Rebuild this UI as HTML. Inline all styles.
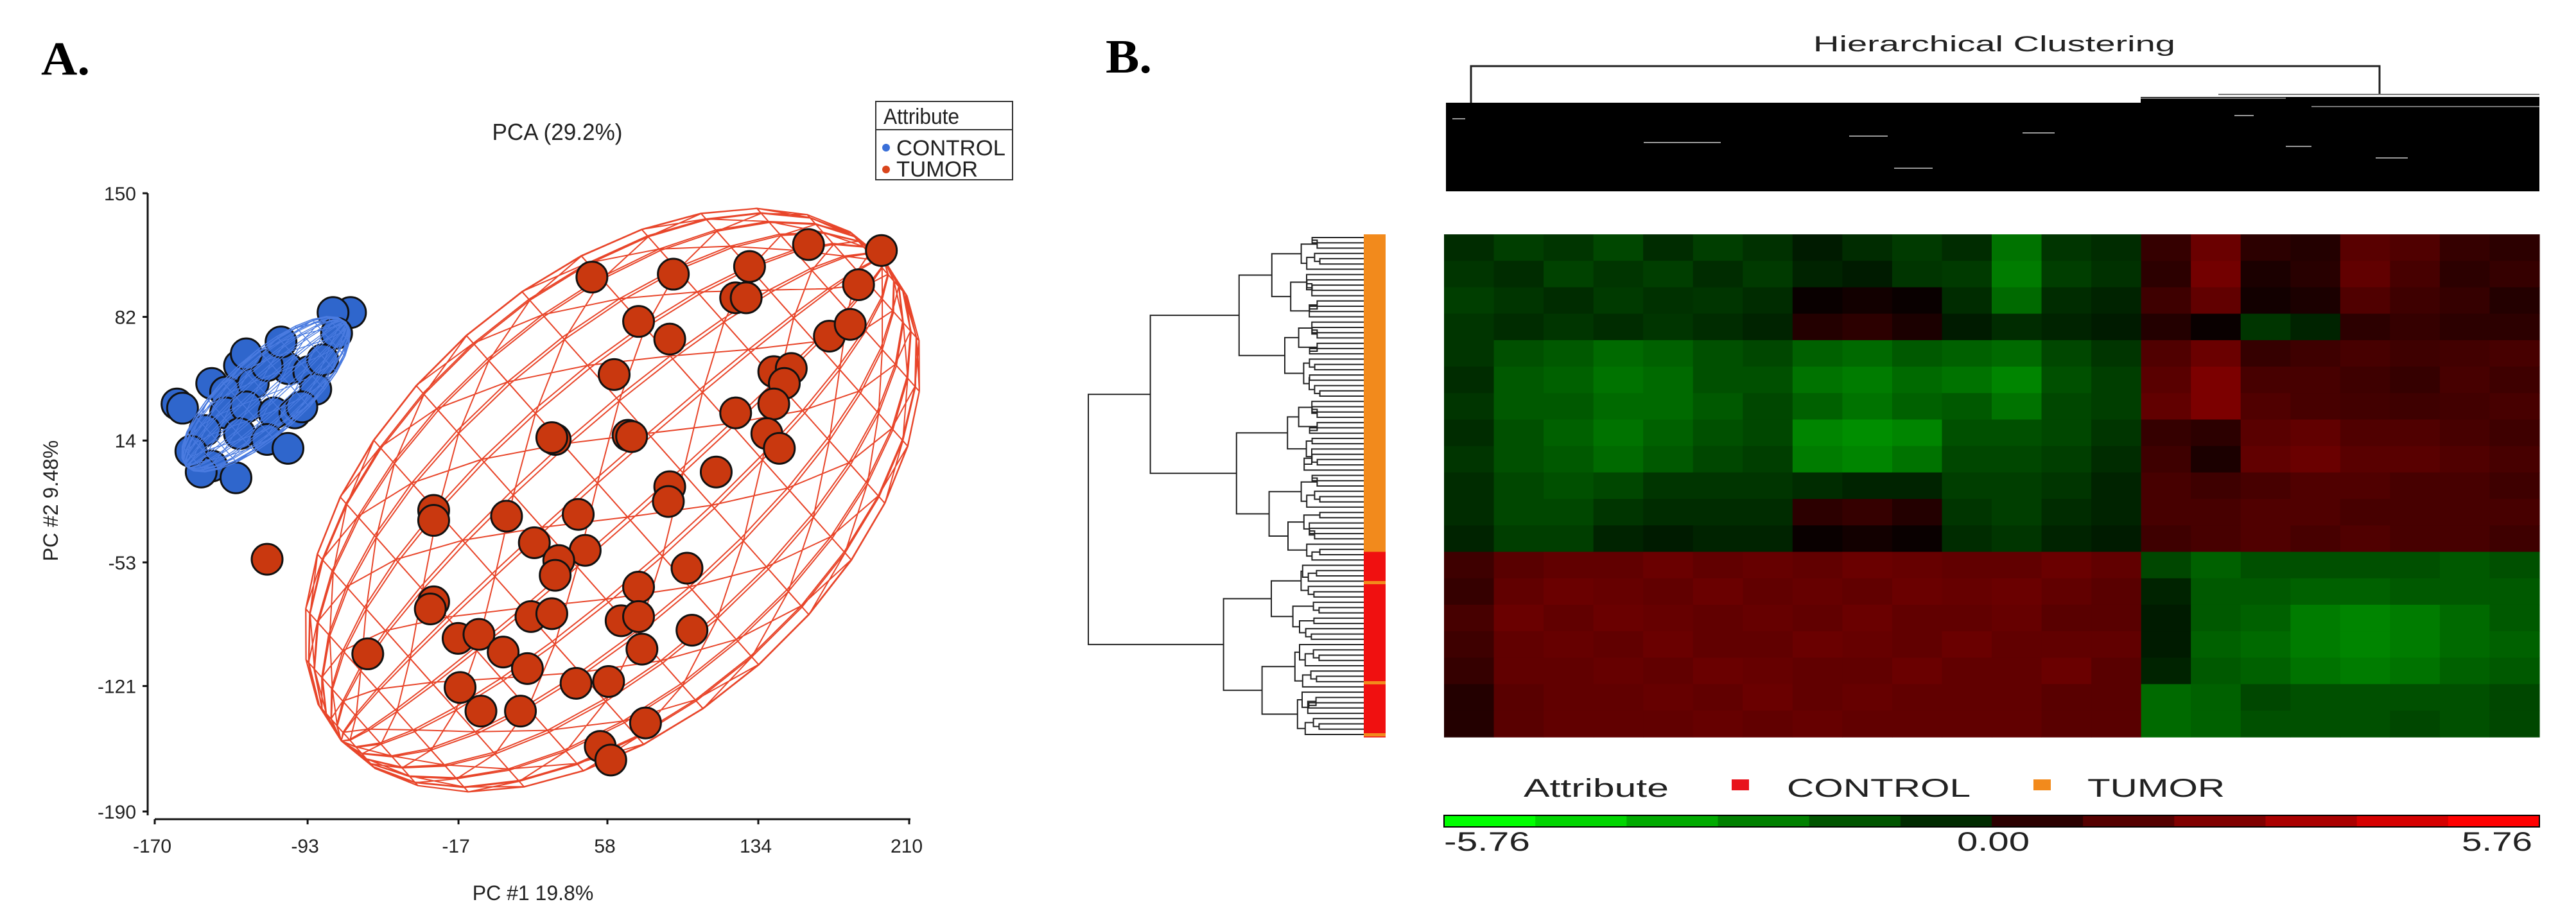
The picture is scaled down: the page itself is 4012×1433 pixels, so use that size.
<!DOCTYPE html>
<html><head><meta charset="utf-8">
<style>
html,body{margin:0;padding:0;background:#fff;}
svg{display:block;}
text{font-family:"Liberation Sans",Arial,sans-serif;}
</style></head>
<body>
<svg id="fig" width="4012" height="1433" viewBox="0 0 4012 1433" xmlns="http://www.w3.org/2000/svg">
<rect width="4012" height="1433" fill="#fff"/>
<text x="64" y="116" font-weight="bold" font-size="74" textLength="76" lengthAdjust="spacingAndGlyphs" style="font-family:'Liberation Serif',serif">A.</text>
<text x="868" y="218" text-anchor="middle" font-size="36" textLength="203" lengthAdjust="spacingAndGlyphs" fill="#222">PCA (29.2%)</text>
<g>
<rect x="1364" y="158" width="213" height="122" fill="#fff" stroke="#333" stroke-width="2"/>
<line x1="1364" y1="202" x2="1577" y2="202" stroke="#333" stroke-width="2"/>
<text x="1376" y="193" font-size="34" fill="#222" textLength="118" lengthAdjust="spacingAndGlyphs">Attribute</text>
<circle cx="1380" cy="230" r="6" fill="#3a6fd8"/>
<text x="1396" y="242" font-size="34" fill="#222" textLength="170" lengthAdjust="spacingAndGlyphs">CONTROL</text>
<circle cx="1380" cy="264" r="6" fill="#d9451c"/>
<text x="1396" y="275" font-size="34" fill="#222" textLength="127" lengthAdjust="spacingAndGlyphs">TUMOR</text>
</g>
<text x="830" y="1402" text-anchor="middle" font-size="32" fill="#222">PC #1 19.8%</text>
<text transform="translate(90,780) rotate(-90)" text-anchor="middle" font-size="32" fill="#222">PC #2 9.48%</text>
<g id="pca"></g>

<text x="1722" y="113" font-weight="bold" font-size="74" textLength="72" lengthAdjust="spacingAndGlyphs" style="font-family:'Liberation Serif',serif">B.</text>
<text x="2824" y="80" font-size="34" fill="#222" textLength="564" lengthAdjust="spacingAndGlyphs">Hierarchical Clustering</text>
<g>
<path d="M2291 160 V103 H3706 V148" fill="none" stroke="#222" stroke-width="3"/>
<rect x="2252" y="160" width="1086" height="138" fill="#000"/>
<rect x="3334" y="151" width="621" height="147" fill="#000"/>
<path d="M3455 147 H3955 M3334 153 H3560 M3600 166 H3955" stroke="#777" stroke-width="2"/>
<g id="coldend"></g>
</g>
<g id="rowdend"></g>
<g id="sidebar"></g>
<g id="heat"></g>
<g>
<text x="2373" y="1241" font-size="40" fill="#222" textLength="226" lengthAdjust="spacingAndGlyphs">Attribute</text>
<rect x="2697" y="1214" width="27" height="17" fill="#e8141c"/>
<text x="2783" y="1241" font-size="40" fill="#222" textLength="286" lengthAdjust="spacingAndGlyphs">CONTROL</text>
<rect x="3167" y="1214" width="27" height="17" fill="#f28a1c"/>
<text x="3251" y="1241" font-size="40" fill="#222" textLength="214" lengthAdjust="spacingAndGlyphs">TUMOR</text>
</g>
<g id="cbar"></g>
<text x="2249" y="1325" font-size="42" fill="#222" textLength="134" lengthAdjust="spacingAndGlyphs">-5.76</text>
<text x="3048" y="1325" font-size="42" fill="#222" textLength="113" lengthAdjust="spacingAndGlyphs">0.00</text>
<text x="3834" y="1325" font-size="42" fill="#222" textLength="110" lengthAdjust="spacingAndGlyphs">5.76</text>
</svg>
<script>
const NS="http://www.w3.org/2000/svg";
const xTicks=[-170,-93,-17,58,134,210];
const yTicks=[150,82,14,-53,-121,-190];
const tumorX=[50.2,91.2,129.6,159.3,196.0,184.5,122.6,127.9,73.7,89.4,169.8,180.3,61.4,141.8,150.6,147.1,141.8,122.6,138.3,144.6,31.7,30.0,68.4,70.2,112.8,89.4,88.7,-29.5,-29.5,7.2,43.3,21.2,46.8,33.5,31.7,98.1,-113.4,-29.5,-31.2,73.7,19.5,30.0,64.9,73.7,100.6,-17.2,-6.7,5.5,75.4,-62.7,17.7,-16.2,42.2,58.6,-5.7,14.2,77.2,54.4,59.7];
const tumorY=[103.9,105.5,109.7,121.8,118.5,99.7,92.5,92.5,79.5,69.8,71.4,77.9,50.3,51.9,53.6,45.4,34.1,29.2,17.8,9.7,14.6,15.6,16.9,16.2,-3.3,-11.4,-19.5,-24.4,-29.9,-27.6,-26.6,-42.2,-46.4,-52.0,-60.1,-56.2,-51.3,-74.7,-78.6,-66.6,-82.8,-81.2,-85.1,-82.8,-90.3,-94.8,-92.6,-102.3,-100.7,-103.3,-111.4,-121.8,-119.5,-118.5,-134.8,-134.8,-141.3,-154.2,-161.7];
const controlX=[-158.8,-156.0,-71.4,-80.2,-78.4,-127.3,-141.3,-134.3,-120.4,-102.9,-92.4,-88.9,-134.3,-123.9,-109.9,-99.4,-144.8,-127.3,-113.4,-102.9,-141.3,-146.6,-129.1,-151.8,-95.9,-85.4,-113.4,-106.4,-123.9];
const controlY=[34.1,31.8,84.4,84.4,73.0,55.2,45.4,40.6,45.4,53.6,51.9,42.2,29.2,32.5,29.2,29.2,19.5,17.8,14.6,9.7,0.0,-3.3,-6.5,8.1,32.5,58.4,55.2,68.2,61.7];
const X0=241,X1=1416,Y0=301,Y1=1264;
function px(v){return X0+(v+170)/380*(X1-X0);}
function py(v){return Y0+(150-v)/340*(Y1-Y0);}
const pca=document.getElementById('pca');
function mk(tag,attrs,parent){const e=document.createElementNS(NS,tag);for(const k in attrs)e.setAttribute(k,attrs[k]);(parent||pca).appendChild(e);return e;}
let ax=mk('line',{x1:230,y1:Y0,x2:230,y2:Y1+6,stroke:'#111','stroke-width':3});


let bx=mk('line',{x1:X0,y1:1276,x2:X1+2,y2:1276,stroke:'#111','stroke-width':3});


yTicks.forEach(v=>{
 mk('line',{x1:222,y1:py(v),x2:230,y2:py(v),stroke:'#111','stroke-width':3});
 const t=mk('text',{x:212,y:py(v)+11,'text-anchor':'end','font-size':30,fill:'#222'});t.textContent=v;
 
 
});
xTicks.forEach(v=>{
 mk('line',{x1:px(v),y1:1276,x2:px(v),y2:1284,stroke:'#111','stroke-width':3});
 const t=mk('text',{x:px(v)-4,y:1328,'text-anchor':'middle','font-size':30,fill:'#222'});t.textContent=v;
 
 
});
function mesh(cx,cy,a,b,ang,nLat,nLon,color,sw,name){
 const g=mk('g',{stroke:color,'stroke-width':sw,fill:'none'});
 
 
 const al=1.0,ca=Math.cos(ang),sa=Math.sin(ang);
 function P(th,ph){const x=Math.sin(th)*Math.cos(ph),y=Math.sin(th)*Math.sin(ph),z=Math.cos(th);
  const u=z, v=y*Math.cos(al)-x*Math.sin(al);
  const X=u*a,Y=v*b;return [cx+X*ca-Y*sa, cy+X*sa+Y*ca];}
 let d='';
 const grid=[];
 for(let i=0;i<=nLat;i++){grid.push([]);for(let j=0;j<=nLon;j++)grid[i].push(P(Math.PI*i/nLat,2*Math.PI*j/nLon));}
 for(let i=1;i<nLat;i++){d+='M'+grid[i].map(p=>p[0].toFixed(1)+' '+p[1].toFixed(1)).join('L');}
 for(let j=0;j<nLon;j++){d+='M';for(let i=0;i<=nLat;i++)d+=(i?'L':'')+grid[i][j][0].toFixed(1)+' '+grid[i][j][1].toFixed(1);}
 for(let i=0;i<nLat;i++)for(let j=0;j<nLon;j++){if((i+j)%2==0)d+='M'+grid[i][j][0].toFixed(1)+' '+grid[i][j][1].toFixed(1)+'L'+grid[i+1][j+1][0].toFixed(1)+' '+grid[i+1][j+1][1].toFixed(1);}
 mk('path',{d:d},g);
 return g;
}
mesh(954,779,565,345,-41.6*Math.PI/180,16,28,'#e8452a',2,'tumor-ellipsoid');
tumorX.forEach((v,i)=>{const c=mk('circle',{cx:px(v),cy:py(tumorY[i]),r:24,fill:'#c9380f',stroke:'#111','stroke-width':3});
 
 });
controlX.forEach((v,i)=>{const c=mk('circle',{cx:px(v),cy:py(controlY[i]),r:24,fill:'#2f66cc',stroke:'#111','stroke-width':3});
 
 });
mesh(414,614,168,62,-42*Math.PI/180,14,26,'#4a7be0',1.3,'control-ellipsoid');

const heatRows=19, heatCols=22;
const heatValues=[
[-1.0,-1.4,-1.2,-1.6,-1.0,-1.4,-1.1,-0.6,-1.0,-1.3,-1.0,-2.6,-1.2,-1.0, 1.2,2.4,1.0,0.8,2.0,1.8,1.2,1.0],
[-1.2,-1.0,-1.5,-1.2,-1.4,-1.0,-1.3,-0.8,-0.6,-1.2,-1.3,-2.8,-1.4,-1.1, 1.0,2.6,0.6,0.9,2.2,1.6,1.0,1.2],
[-1.4,-1.2,-1.0,-1.3,-1.1,-1.2,-1.0, 0.2, 0.4, 0.2,-1.0,-2.4,-1.0,-0.8, 1.4,2.2,0.4,0.6,1.8,1.4,1.2,0.8],
[-1.2,-1.0,-1.2,-1.0,-1.2,-1.0,-0.8, 0.8, 1.0, 0.6,-0.6,-1.0,-0.8,-0.6, 0.8,0.2,-1.2,-0.8,1.0,1.2,1.0,1.0],
[-1.2,-1.8,-2.0,-2.4,-2.2,-1.8,-1.6,-2.2,-2.4,-2.0,-2.2,-2.4,-1.6,-1.2, 1.8,2.4,1.2,1.4,1.6,1.4,1.5,1.6],
[-1.0,-2.0,-2.2,-2.6,-2.4,-1.8,-1.8,-2.6,-2.8,-2.4,-2.6,-3.0,-1.8,-1.4, 2.0,2.8,1.6,1.6,1.4,1.2,1.6,1.4],
[-1.2,-2.0,-2.0,-2.4,-2.4,-2.0,-1.6,-2.2,-2.6,-2.2,-2.0,-2.6,-1.6,-1.4, 2.2,2.8,1.8,1.6,1.5,1.4,1.5,1.6],
[-1.0,-1.8,-2.2,-2.6,-2.2,-1.8,-1.6,-3.0,-3.2,-3.0,-1.8,-1.8,-1.6,-1.2, 1.2,1.0,2.0,2.2,1.8,1.8,1.6,1.4],
[-1.2,-1.8,-2.0,-2.4,-2.0,-1.6,-1.4,-2.8,-3.0,-2.6,-1.6,-1.6,-1.4,-1.0, 1.4,0.6,2.2,2.4,2.0,2.0,1.8,1.6],
[-1.0,-1.6,-1.8,-1.6,-1.2,-1.2,-1.2,-1.0,-0.8,-0.8,-1.4,-1.4,-1.2,-0.8, 1.6,1.4,1.6,1.8,1.8,1.6,1.6,1.4],
[-1.0,-1.6,-1.6,-1.2,-1.0,-1.0,-1.0, 1.0, 1.2, 0.8,-1.2,-1.4,-1.0,-0.8, 1.6,1.6,1.8,1.8,1.6,1.6,1.6,1.6],
[-0.8,-1.4,-1.4,-0.8,-0.6,-0.8,-0.8, 0.2, 0.4, 0.2,-1.0,-1.2,-0.8,-0.6, 1.4,1.6,1.8,1.6,1.8,1.6,1.6,1.4],
[ 1.4, 2.0, 2.2, 2.2, 2.4, 2.2, 2.3, 2.2, 2.4, 2.3, 2.2, 2.2, 2.4, 2.2,-1.6,-2.2,-1.8,-1.8,-1.8,-1.8,-2.0,-1.8],
[ 1.2, 2.2, 2.4, 2.3, 2.2, 2.4, 2.2, 2.3, 2.2, 2.4, 2.3, 2.4, 2.2, 2.0,-0.8,-2.0,-2.0,-2.2,-2.2,-2.0,-2.0,-2.0],
[ 1.6, 2.4, 2.2, 2.4, 2.3, 2.2, 2.3, 2.2, 2.4, 2.2, 2.2, 2.3, 2.0, 2.0,-0.6,-2.0,-2.2,-2.8,-3.0,-2.8,-2.4,-2.0],
[ 1.4, 2.2, 2.3, 2.2, 2.4, 2.2, 2.2, 2.4, 2.3, 2.2, 2.4, 2.2, 2.2, 2.2,-0.6,-2.2,-2.4,-2.8,-3.0,-2.8,-2.4,-2.2],
[ 1.2, 2.2, 2.2, 2.3, 2.2, 2.4, 2.3, 2.2, 2.2, 2.4, 2.2, 2.2, 2.4, 2.0,-0.8,-2.0,-2.2,-2.6,-2.8,-2.6,-2.2,-2.0],
[ 0.8, 2.0, 2.2, 2.2, 2.3, 2.2, 2.4, 2.2, 2.3, 2.2, 2.2, 2.2, 2.0, 2.0,-2.4,-2.2,-1.6,-1.8,-1.8,-1.8,-1.8,-1.6],
[ 0.8, 2.0, 2.2, 2.2, 2.2, 2.3, 2.2, 2.3, 2.2, 2.2, 2.2, 2.2, 2.0, 2.0,-2.4,-2.2,-1.8,-1.8,-1.8,-1.6,-1.8,-1.6]
];
const scaleMin=-5.76, scaleMax=5.76;
const HX0=2249,HX1=3955,HY0=365,HY1=1148;
function color(v){const t=Math.min(1,Math.abs(v)/scaleMax);const c=Math.round(255*t);return v<0?`rgb(0,${c},0)`:`rgb(${c},0,0)`;}
const heat=document.getElementById('heat');
const cw=(HX1-HX0)/heatCols, ch=(HY1-HY0)/heatRows;
heatValues.forEach((row,r)=>row.forEach((v,c)=>{
 const e=mk('rect',{x:(HX0+c*cw).toFixed(2),y:(HY0+r*ch).toFixed(2),width:(cw+0.6).toFixed(2),height:(ch+0.6).toFixed(2),fill:color(v)},heat);
 
 
}));
const rowGroups=['T','T','T','T','T','T','T','T','T','T','T','T','C','C','C','C','C','C','C'];
const sb=document.getElementById('sidebar');
rowGroups.forEach((g,r)=>{const e=mk('rect',{x:2124,y:(HY0+r*ch).toFixed(2),width:34,height:(ch+0.6).toFixed(2),fill:g=='T'?'#f28a1c':'#f01010'},sb);
 
 });
[905,1061,1142].forEach(y=>mk('rect',{x:2124,y:y,width:34,height:5,fill:'#f28a1c'},sb));
const scaleStops=[-5.76,-4.8,-3.84,-2.88,-1.92,-0.96,0,0.96,1.92,2.88,3.84,4.8,5.76];
const cb=document.getElementById('cbar');
for(let i=0;i<scaleStops.length-1;i++){
 const x0=HX0+(scaleStops[i]-scaleMin)/(scaleMax-scaleMin)*(HX1-HX0);
 const x1=HX0+(scaleStops[i+1]-scaleMin)/(scaleMax-scaleMin)*(HX1-HX0);
 const v=i<6?scaleStops[i]:scaleStops[i+1];
 const e=mk('rect',{x:x0,y:1270,width:x1-x0+0.5,height:18,fill:color(v)},cb);
 
 
}
mk('rect',{x:HX0,y:1270,width:HX1-HX0,height:18,fill:'none',stroke:'#000','stroke-width':2},cb);
// row dendrogram
const rd=document.getElementById('rowdend');
const nLeaves=95, leafY0=370, leafY1=1144;
function leafY(i){return leafY0+i*(leafY1-leafY0)/(nLeaves-1);}
let dpath='';
function build(lo,hi,depth,k){
 if(hi-lo==1){return [leafY(lo),2124];}
 const off=((depth*7+lo)%3)-1;
 const m=Math.min(hi-1,Math.max(lo+1,Math.floor((lo+hi)/2)+off));
 const xs=2124-60-(hi-lo)*k-((depth*13+lo)%5)*4;
 const A=build(lo,m,depth+1,k),B=build(m,hi,depth+1,k);
 dpath+=`M${A[1]} ${A[0].toFixed(1)}H${xs.toFixed(1)}V${B[0].toFixed(1)}H${B[1]}`;
 return [(A[0]+B[0])/2,xs];
}
const nTop=62;
const Ta=build(0,nTop,1,4.2), Ba=build(nTop,nLeaves,1,4.8);
dpath+=`M${Ta[1].toFixed(1)} ${Ta[0].toFixed(1)}H1695V${Ba[0].toFixed(1)}H${Ba[1].toFixed(1)}`;
mk('path',{d:dpath,fill:'none',stroke:'#222','stroke-width':2},rd);
const cd=document.getElementById('coldend');
[[2262,185,20],[2560,222,120],[2950,262,60],[2880,212,60],[3480,180,30],[3560,228,40],[3700,246,50],[3150,207,50]].forEach(s=>{
 mk('line',{x1:s[0],y1:s[1],x2:s[0]+s[2],y2:s[1],stroke:'#999','stroke-width':2},cd);});
</script>
</body></html>
